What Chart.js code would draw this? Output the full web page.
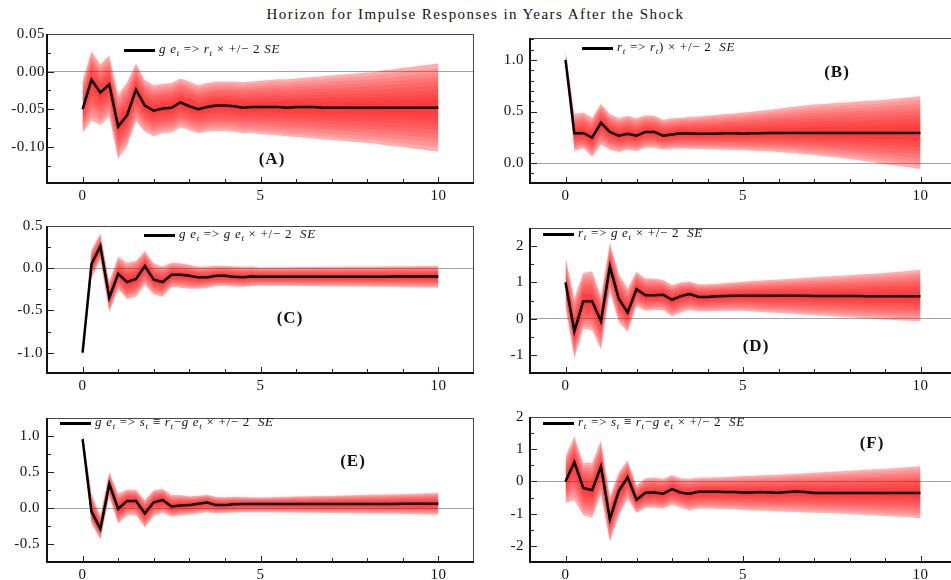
<!DOCTYPE html>
<html><head><meta charset="utf-8">
<script src="https://cdn.jsdelivr.net/npm/chart.js@4.4.1/dist/chart.umd.min.js"></script>
<style>
html,body{margin:0;padding:0;background:#fff;}
body{width:951px;height:580px;overflow:hidden;position:relative;font-family:'Liberation Serif','Times New Roman',serif;color:#111;}
canvas{position:absolute;}
.title{position:absolute;left:0;top:4px;width:951px;text-align:center;font-size:15px;line-height:20px;letter-spacing:1.45px;}
.legline{position:absolute;height:3px;width:31px;background:#000;}
.legtext{position:absolute;font-size:13px;line-height:16px;white-space:nowrap;letter-spacing:0.7px;}
.legtext sub{font-size:9px;vertical-align:-3px;line-height:0;}
.plabel{position:absolute;font-weight:bold;font-size:17px;line-height:20px;transform:translate(-50%,-50%);white-space:nowrap;letter-spacing:1px;}
</style></head><body>
<div class="title">Horizon for Impulse Responses in Years After the Shock</div>
<script>
// ---- data ----
const horizon = [0,0.25,0.5,0.75,1,1.25,1.5,1.75,2,2.25,2.5,2.75,3,3.25,3.5,3.75,4,4.25,4.5,4.75,5,5.25,5.5,5.75,6,6.25,6.5,6.75,7,7.25,7.5,7.75,8,8.25,8.5,8.75,9,9.25,9.5,9.75,10];
const xTickLabels = [0,5,10];

const aMean = [-0.050,-0.011,-0.028,-0.017,-0.073,-0.058,-0.024,-0.045,-0.052,-0.049,-0.048,-0.041,-0.046,-0.050,-0.047,-0.045,-0.045,-0.046,-0.048,-0.047,-0.047,-0.047,-0.047,-0.048,-0.047,-0.047,-0.047,-0.048,-0.048,-0.048,-0.048,-0.048,-0.048,-0.048,-0.048,-0.048,-0.048,-0.048,-0.048,-0.048,-0.048];
const aUpper = [-0.012,0.027,0.010,0.021,-0.030,-0.014,0.011,-0.011,-0.018,-0.016,-0.015,-0.009,-0.013,-0.018,-0.015,-0.013,-0.013,-0.013,-0.014,-0.013,-0.012,-0.011,-0.010,-0.010,-0.009,-0.008,-0.007,-0.006,-0.005,-0.004,-0.003,-0.002,-0.001,0.000,0.002,0.003,0.005,0.006,0.008,0.009,0.011];
const aLower = [-0.082,-0.065,-0.071,-0.060,-0.116,-0.099,-0.066,-0.080,-0.086,-0.082,-0.081,-0.074,-0.078,-0.082,-0.080,-0.079,-0.079,-0.080,-0.082,-0.082,-0.083,-0.084,-0.085,-0.086,-0.087,-0.088,-0.089,-0.090,-0.091,-0.092,-0.093,-0.094,-0.095,-0.096,-0.098,-0.099,-0.100,-0.102,-0.103,-0.105,-0.106];

const bMean = [1.000,0.287,0.292,0.247,0.390,0.303,0.265,0.284,0.266,0.303,0.303,0.266,0.278,0.290,0.288,0.286,0.285,0.285,0.290,0.290,0.285,0.290,0.290,0.292,0.292,0.292,0.292,0.292,0.292,0.292,0.292,0.292,0.292,0.292,0.292,0.292,0.292,0.292,0.292,0.292,0.293];
const bUpper = [1.100,0.475,0.490,0.440,0.575,0.475,0.434,0.460,0.434,0.465,0.460,0.420,0.434,0.440,0.447,0.453,0.460,0.467,0.475,0.482,0.490,0.499,0.508,0.518,0.528,0.538,0.548,0.558,0.569,0.574,0.579,0.585,0.590,0.596,0.602,0.608,0.615,0.623,0.631,0.639,0.647];
const bLower = [0.950,0.115,0.146,0.060,0.178,0.130,0.109,0.130,0.115,0.150,0.150,0.130,0.140,0.142,0.140,0.138,0.135,0.133,0.130,0.127,0.125,0.120,0.116,0.112,0.108,0.101,0.094,0.086,0.078,0.069,0.060,0.050,0.040,0.028,0.016,0.003,-0.010,-0.021,-0.033,-0.045,-0.057];

const cMean = [-1.000,0.050,0.260,-0.350,-0.066,-0.163,-0.128,0.027,-0.136,-0.163,-0.078,-0.078,-0.089,-0.108,-0.108,-0.089,-0.089,-0.100,-0.108,-0.097,-0.100,-0.100,-0.100,-0.100,-0.100,-0.100,-0.100,-0.100,-0.100,-0.100,-0.100,-0.100,-0.100,-0.100,-0.100,-0.098,-0.098,-0.098,-0.097,-0.097,-0.097];
const cUpper = [-0.950,0.220,0.410,-0.160,0.136,0.066,0.090,0.205,0.058,0.020,0.066,0.058,0.040,0.020,0.020,0.030,0.030,0.025,0.018,0.020,0.010,0.011,0.012,0.013,0.014,0.015,0.016,0.017,0.018,0.019,0.020,0.021,0.021,0.022,0.023,0.024,0.024,0.025,0.026,0.026,0.027];
const cLower = [-1.080,-0.120,0.100,-0.520,-0.250,-0.368,-0.337,-0.194,-0.310,-0.337,-0.220,-0.230,-0.244,-0.244,-0.230,-0.210,-0.210,-0.215,-0.220,-0.210,-0.205,-0.206,-0.207,-0.208,-0.209,-0.210,-0.211,-0.212,-0.213,-0.214,-0.215,-0.216,-0.217,-0.218,-0.219,-0.220,-0.222,-0.224,-0.226,-0.228,-0.230];

const dMean = [1.00,-0.35,0.48,0.48,-0.07,1.44,0.55,0.17,0.81,0.645,0.645,0.66,0.52,0.62,0.68,0.60,0.60,0.62,0.625,0.63,0.63,0.63,0.63,0.63,0.63,0.63,0.63,0.63,0.625,0.625,0.625,0.625,0.625,0.625,0.62,0.62,0.62,0.62,0.62,0.62,0.62];
const dUpper = [1.70,0.57,1.26,1.31,0.62,2.10,1.24,0.84,1.29,1.11,1.11,1.065,0.93,1.00,1.02,0.95,0.95,0.96,0.98,1.00,1.02,1.035,1.05,1.065,1.08,1.095,1.11,1.125,1.14,1.155,1.17,1.185,1.20,1.215,1.23,1.245,1.26,1.28,1.30,1.325,1.35];
const dLower = [0.30,-1.10,-0.28,-0.32,-0.86,0.75,-0.10,-0.37,0.35,0.215,0.24,0.24,0.06,0.17,0.24,0.20,0.20,0.21,0.215,0.215,0.215,0.20,0.185,0.17,0.155,0.14,0.125,0.11,0.095,0.08,0.065,0.05,0.035,0.02,0.005,-0.01,-0.025,-0.04,-0.055,-0.068,-0.08];

const eMean = [0.956,-0.050,-0.290,0.333,-0.013,0.098,0.098,-0.075,0.080,0.110,0.022,0.036,0.040,0.058,0.076,0.040,0.040,0.053,0.055,0.055,0.055,0.055,0.055,0.055,0.056,0.056,0.056,0.056,0.056,0.056,0.057,0.057,0.057,0.057,0.057,0.057,0.058,0.058,0.058,0.058,0.058];
const eUpper = [1.070,0.200,-0.110,0.500,0.200,0.253,0.253,0.110,0.245,0.267,0.180,0.180,0.164,0.170,0.185,0.155,0.150,0.155,0.152,0.150,0.147,0.150,0.153,0.156,0.159,0.162,0.165,0.168,0.171,0.174,0.177,0.180,0.183,0.186,0.189,0.192,0.195,0.198,0.201,0.205,0.209];
const eLower = [0.890,-0.220,-0.440,0.156,-0.220,-0.100,-0.100,-0.270,-0.110,-0.067,-0.120,-0.100,-0.089,-0.075,-0.060,-0.075,-0.070,-0.062,-0.060,-0.058,-0.058,-0.060,-0.061,-0.063,-0.064,-0.066,-0.067,-0.069,-0.070,-0.072,-0.073,-0.075,-0.076,-0.078,-0.079,-0.081,-0.083,-0.085,-0.087,-0.090,-0.093];

const fMean = [0.00,0.60,-0.20,-0.27,0.46,-1.17,-0.30,0.13,-0.57,-0.35,-0.34,-0.38,-0.24,-0.35,-0.38,-0.32,-0.32,-0.32,-0.33,-0.33,-0.34,-0.34,-0.33,-0.34,-0.35,-0.33,-0.31,-0.33,-0.36,-0.36,-0.36,-0.36,-0.36,-0.36,-0.36,-0.36,-0.36,-0.36,-0.36,-0.36,-0.36];
const fUpper = [0.78,1.40,0.58,0.58,1.27,-0.47,0.28,0.66,-0.12,0.10,0.12,0.08,0.20,0.10,0.08,0.12,0.12,0.13,0.14,0.15,0.17,0.18,0.19,0.20,0.21,0.225,0.24,0.255,0.27,0.285,0.30,0.315,0.33,0.345,0.36,0.375,0.39,0.41,0.43,0.45,0.47];
const fLower = [-0.67,-0.58,-1.05,-1.13,-0.42,-1.88,-1.07,-0.54,-0.98,-0.82,-0.82,-0.85,-0.72,-0.82,-0.90,-0.84,-0.84,-0.85,-0.86,-0.87,-0.89,-0.90,-0.91,-0.92,-0.93,-0.94,-0.95,-0.96,-0.97,-0.98,-0.99,-1.00,-1.01,-1.025,-1.04,-1.055,-1.07,-1.085,-1.10,-1.12,-1.14];

// ---- layout / style ----
const FONT = "'Liberation Serif','Times New Roman',serif";
const LAYERS = 10;
const PAD_TOP = 10, AREA_H = 150, XAXIS_H = 22;

const panels = [
  {mean:aMean, up:aUpper, lo:aLower, yMin:-0.148, yMax:0.05, step:0.025, major:0.05, dec:2,
   left:0, width:478, yW:47, areaTop:33, tickPad:2, label:'(A)', lx:272, ly:159,
   legX:124, legY:50, legText:'<i>g e<sub>t</sub></i> =&gt; <i>r<sub>t</sub></i> × +/− 2 <i>SE</i>'},
  {mean:bMean, up:bUpper, lo:bLower, yMin:-0.192, yMax:1.212, step:0.1, major:0.5, dec:1,
   left:480, width:480, yW:50, areaTop:33, tickPad:6, label:'(B)', lx:837, ly:72,
   legX:582, legY:48, legText:'<i>r<sub>t</sub></i> =&gt; <i>r<sub>t</sub></i>) × +/− 2&nbsp; <i>SE</i>'},
  {mean:cMean, up:cUpper, lo:cLower, yMin:-1.24, yMax:0.5, step:0.25, major:0.5, dec:1,
   left:0, width:478, yW:47, areaTop:223, tickPad:4, label:'(C)', lx:290, ly:318,
   legX:144, legY:235, legText:'<i>g e<sub>t</sub></i> =&gt; <i>g e<sub>t</sub></i> × +/− 2&nbsp; <i>SE</i>'},
  {mean:dMean, up:dUpper, lo:dLower, yMin:-1.5, yMax:2.5, step:0.5, major:1, dec:0,
   left:480, width:480, yW:50, areaTop:223, tickPad:6, label:'(D)', lx:756, ly:346,
   legX:543, legY:234, legText:'<i>r<sub>t</sub></i> =&gt; <i>g e<sub>t</sub></i> × +/− 2&nbsp; <i>SE</i>'},
  {mean:eMean, up:eUpper, lo:eLower, yMin:-0.75, yMax:1.25, step:0.25, major:0.5, dec:1,
   left:0, width:478, yW:47, areaTop:412, tickPad:7, label:'(E)', lx:353, ly:461,
   legX:60, legY:423, legText:'<i>g e<sub>t</sub></i> =&gt; <i>s<sub>t</sub></i> ≡ <i>r<sub>t</sub></i>−<i>g e<sub>t</sub></i> × +/− 2&nbsp; <i>SE</i>'},
  {mean:fMean, up:fUpper, lo:fLower, yMin:-2.5, yMax:2, step:0.5, major:1, dec:0,
   left:480, width:480, yW:50, areaTop:412, tickPad:6, label:'(F)', lx:872, ly:443,
   legX:543, legY:423, legText:'<i>r<sub>t</sub></i> =&gt; <i>s<sub>t</sub></i> ≡ <i>r<sub>t</sub></i>−<i>g e<sub>t</sub></i> × +/− 2&nbsp; <i>SE</i>'}
];

const isMult = (v, m) => Math.abs(v / m - Math.round(v / m)) < 1e-6;

const framePlugin = {
  id: 'frame',
  beforeDraw(chart) { chart.ctx.letterSpacing = '0.5px'; },
  afterDatasetsDraw(chart, args, opts) {
    const {ctx, chartArea: a, scales: {x, y}} = chart;
    ctx.save();
    ctx.strokeStyle = '#222';
    ctx.lineWidth = 1;
    y.ticks.forEach(t => {
      const py = Math.round(y.getPixelForValue(t.value)) + 0.5;
      const len = isMult(t.value, opts.major) ? 7 : 4;
      ctx.beginPath(); ctx.moveTo(a.left, py); ctx.lineTo(a.left + len, py); ctx.stroke();
    });
    x.ticks.forEach(t => {
      if (t.value < 0 || t.value > 10) return;
      const px = Math.round(x.getPixelForValue(t.value)) + 0.5;
      const len = xTickLabels.includes(t.value) ? 6 : 4;
      ctx.beginPath(); ctx.moveTo(px, a.bottom); ctx.lineTo(px, a.bottom - len); ctx.stroke();
    });
    ctx.strokeStyle = '#4a4a4a';
    ctx.lineWidth = 1;
    ctx.beginPath();
    ctx.moveTo(a.left, a.top + 0.5); ctx.lineTo(a.right, a.top + 0.5);
    ctx.moveTo(a.right - 0.5, a.top); ctx.lineTo(a.right - 0.5, a.bottom);
    ctx.stroke();
    ctx.strokeStyle = '#111';
    ctx.lineWidth = 2;
    ctx.beginPath();
    ctx.moveTo(a.left, a.top); ctx.lineTo(a.left, a.bottom + 1);
    ctx.moveTo(a.left - 1, a.bottom); ctx.lineTo(a.right, a.bottom);
    ctx.stroke();
    ctx.restore();
  }
};

function pts(arr) { return horizon.map((t, i) => ({x: t, y: arr[i]})); }

function buildDatasets(p) {
  const ds = [{data: pts(p.mean), borderColor: '#000', borderWidth: 2.5, pointRadius: 0, fill: false, tension: 0}];
  for (let k = 0; k < LAYERS; k++) {
    const f = 1 - k / LAYERS;
    const alpha = k === 0 ? 0.32 : 0.12;
    const up = p.mean.map((m, i) => m + f * (p.up[i] - m));
    const lo = p.mean.map((m, i) => m + f * (p.lo[i] - m));
    ds.push({data: pts(up), fill: '+1', backgroundColor: `rgba(255,0,0,${alpha})`,
             borderColor: 'rgba(0,0,0,0)', borderWidth: 0, pointRadius: 0, tension: 0});
    ds.push({data: pts(lo), fill: false, borderColor: 'rgba(0,0,0,0)', borderWidth: 0, pointRadius: 0, tension: 0});
  }
  return ds;
}

panels.forEach(p => {
  const cv = document.createElement('canvas');
  const h = PAD_TOP + AREA_H + XAXIS_H;
  cv.width = p.width; cv.height = h;
  cv.style.left = p.left + 'px';
  cv.style.top = (p.areaTop - PAD_TOP) + 'px';
  cv.style.width = p.width + 'px'; cv.style.height = h + 'px';
  document.body.appendChild(cv);

  new Chart(cv, {
    type: 'line',
    data: {datasets: buildDatasets(p)},
    options: {
      responsive: false, animation: false, events: [], devicePixelRatio: 1,
      layout: {padding: {top: PAD_TOP, right: 2, left: 0, bottom: 0}},
      plugins: {legend: {display: false}, tooltip: {enabled: false}, frame: {major: p.major}},
      scales: {
        x: {
          type: 'linear', min: -1, max: 11,
          afterFit: s => { s.height = XAXIS_H; },
          grid: {display: false, drawTicks: false},
          border: {display: false},
          ticks: {stepSize: 1, autoSkip: false, maxRotation: 0, padding: 4,
                  font: {family: FONT, size: 15}, color: '#111',
                  callback: v => xTickLabels.includes(v) ? String(v) : ''}
        },
        y: {
          type: 'linear', min: p.yMin, max: p.yMax,
          afterFit: s => { s.width = p.yW; },
          grid: {drawTicks: false, lineWidth: 1,
                 color: c => (c.tick && Math.abs(c.tick.value) < 1e-9) ? '#a3a3a3' : 'rgba(0,0,0,0)'},
          border: {display: false},
          ticks: {stepSize: p.step, includeBounds: false, autoSkip: false, padding: p.tickPad,
                  font: {family: FONT, size: 15}, color: '#111',
                  callback: v => isMult(v, p.major) ? Number(v).toFixed(p.dec).replace(/^-0(\.0+)?$/, '0$1') : ''}
        }
      }
    },
    plugins: [framePlugin]
  });

  const ln = document.createElement('div');
  ln.className = 'legline';
  ln.style.left = p.legX + 'px';
  ln.style.top = (p.legY - 1.5) + 'px';
  document.body.appendChild(ln);

  const tx = document.createElement('div');
  tx.className = 'legtext';
  tx.innerHTML = p.legText;
  tx.style.left = (p.legX + 35) + 'px';
  tx.style.top = (p.legY - 9) + 'px';
  document.body.appendChild(tx);

  const lb = document.createElement('div');
  lb.className = 'plabel';
  lb.textContent = p.label;
  lb.style.left = p.lx + 'px';
  lb.style.top = p.ly + 'px';
  document.body.appendChild(lb);
});
</script>
</body></html>
